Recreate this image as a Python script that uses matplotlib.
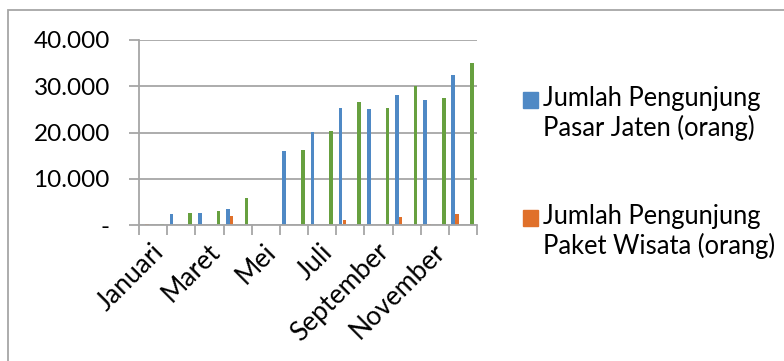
import numpy as np
import matplotlib
matplotlib.use("Agg")
import matplotlib.pyplot as plt
from matplotlib.patches import Rectangle, Patch
from matplotlib.legend_handler import HandlerPatch
from matplotlib.ticker import FuncFormatter

plt.rcParams['font.family'] = ['Lato', 'DejaVu Sans']

bulan = ["Januari", "Februari", "Maret", "April", "Mei", "Juni",
         "Juli", "Agustus", "September", "Oktober", "November", "Desember"]
pasar_jaten = [0, 2400, 2700, 3500, 0, 16100, 20100, 25300, 25200, 28200, 27100, 32500]
paket_wisata = [200, 80, 150, 2000, 30, 100, 0, 1150, 0, 1730, 200, 2440]
lainnya = [200, 2600, 3000, 5830, 120, 16250, 20350, 26600, 25300, 30000, 27500, 35000]

label_pasar = "Jumlah Pengunjung\nPasar Jaten (orang)"
label_paket = "Jumlah Pengunjung\nPaket Wisata (orang)"

biru = "#4f89c5"
oranye = "#e0702a"
hijau = "#67a03f"
abu = "#a6a6a6"

W, H = 784, 361
fig = plt.figure(figsize=(W / 100, H / 100), dpi=100)
ax = fig.add_axes([139 / W, 1 - 225.3 / H, (477 - 139) / W, (225.3 - 40) / H])

x = np.arange(len(bulan))
lebar = 0.13
ax.bar(x + 0.155, pasar_jaten, lebar, color=biru, align='center')
ax.bar(x + 0.29, paket_wisata, lebar, color=oranye, align='center')
ax.bar(x + 0.82, lainnya, lebar, color=hijau, align='center')

ax.set_xlim(0, 12)
ax.set_ylim(0, 40000)
ax.set_yticks(np.arange(0, 40001, 10000))
ax.yaxis.set_major_formatter(FuncFormatter(
    lambda v, p: "-" if v == 0 else "{:,.0f}".format(v).replace(",", ".")))
ax.grid(axis='y', color=abu, linewidth=1.3)
ax.set_axisbelow(True)

# tick marks at category edges, labels on every other month
ax.set_xticks(np.arange(0, 13))
ax.set_xticklabels([])
ax.set_xticks(x[::2] + 0.42, minor=True)
ax.set_xticklabels(bulan[::2], minor=True, rotation=45, ha='right',
                   rotation_mode='anchor', fontsize=19)
ax.tick_params(axis='x', which='major', length=7, color=abu, width=1.3)
ax.tick_params(axis='x', which='minor', length=0, pad=10)
ax.tick_params(axis='y', length=7, color=abu, width=1.3, labelsize=17.5, pad=14)

for s in ['top', 'right']:
    ax.spines[s].set_visible(False)
ax.spines['left'].set_color(abu)
ax.spines['left'].set_linewidth(1.3)
ax.spines['bottom'].set_color(abu)
ax.spines['bottom'].set_linewidth(1.3)


# legend square sits beside the first line of each two-line label
def kotak(legend, orig_handle, xdescent, ydescent, width, height, fontsize):
    return Rectangle((-xdescent, -ydescent + 10.5), width, height)


handles = [Patch(color=biru), Patch(color=oranye)]
fig.legend(handles, [label_pasar, label_paket], loc='upper left',
           bbox_to_anchor=(523 / W, 1 - 86 / H), frameon=False,
           fontsize=18.4, handlelength=0.6, handleheight=0.6,
           handletextpad=0.2, labelspacing=2.45, borderpad=0,
           borderaxespad=0,
           handler_map={Patch: HandlerPatch(patch_func=kotak)})

fig.patches.append(Rectangle((8 / W, -0.2), 1.2, 1.2 - 10 / H,
                             transform=fig.transFigure, fill=False,
                             edgecolor=abu, linewidth=1.3))

fig.savefig("out.png", dpi=100)
